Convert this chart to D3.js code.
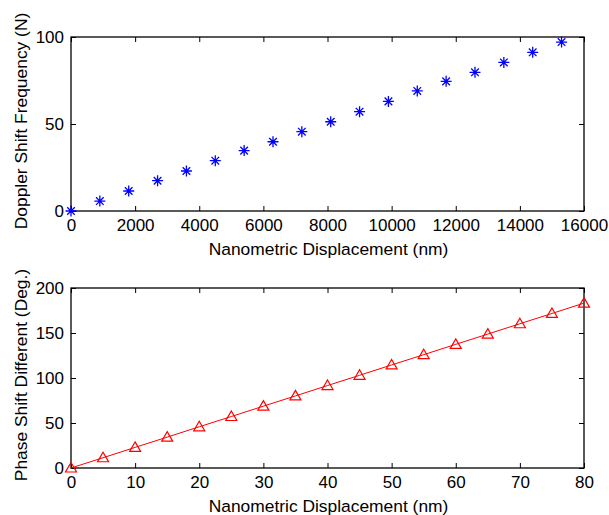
<!DOCTYPE html>
<html>
<head>
<meta charset="utf-8">
<script src="https://cdn.jsdelivr.net/npm/d3@7"></script>
<style>
  body { margin: 0; background: #fff; }
  svg { font-family: "Liberation Sans", Arial, sans-serif; }
  .tick text { font-size: 17px; fill: #000; }
  .domain, .tick line { stroke: #000; }
</style>
</head>
<body>
<svg id="chart" width="609" height="515"></svg>
<script>
// top panel: doppler shift vs displacement
const dopplerX = [0, 900, 1800, 2700, 3600, 4500, 5400, 6300, 7200, 8100, 9000, 9900, 10800, 11700, 12600, 13500, 14400, 15300];
const dopplerY = [0, 5.7, 11.5, 17.4, 23, 28.9, 34.7, 39.8, 45.6, 51.3, 57.1, 63, 69, 74.5, 79.7, 85.4, 91.2, 97.1];
const dopplerXTicks = [0, 2000, 4000, 6000, 8000, 10000, 12000, 14000, 16000];
const dopplerYTicks = [0, 50, 100];

// bottom panel: phase shift vs displacement
const phaseX = [0, 5, 10, 15, 20, 25, 30, 35, 40, 45, 50, 55, 60, 65, 70, 75, 80];
const phaseY = [0, 11.4, 22.9, 34.3, 45.8, 57.2, 68.7, 80.1, 91.6, 103, 114.5, 125.9, 137.4, 148.8, 160.3, 171.7, 183.2];
const phaseXTicks = [0, 10, 20, 30, 40, 50, 60, 70, 80];
const phaseYTicks = [0, 50, 100, 150, 200];

const svg = d3.select("#chart");
const left = 71, right = 584;

function panel(o) {
  const x = d3.scaleLinear().domain(o.xdom).range([left, right]);
  const y = d3.scaleLinear().domain(o.ydom).range([o.bottom, o.top]);
  const g = svg.append("g");

  g.append("rect")
    .attr("x", left).attr("y", o.top)
    .attr("width", right - left).attr("height", o.bottom - o.top)
    .attr("fill", "none").attr("stroke", "#000").attr("stroke-width", 1.3);

  // axes, ticks pointing inward like matlab
  g.append("g").attr("transform", "translate(0," + o.bottom + ")")
    .call(d3.axisBottom(x).tickValues(o.xticks).tickSizeInner(-5).tickSizeOuter(0).tickPadding(8).tickFormat(d3.format("d")));
  g.append("g").attr("transform", "translate(0," + o.top + ")")
    .call(d3.axisTop(x).tickValues(o.xticks).tickSizeInner(-5).tickSizeOuter(0).tickFormat(""));
  g.append("g").attr("transform", "translate(" + left + ",0)")
    .call(d3.axisLeft(y).tickValues(o.yticks).tickSizeInner(-5).tickSizeOuter(0).tickPadding(7).tickFormat(d3.format("d")));
  g.append("g").attr("transform", "translate(" + right + ",0)")
    .call(d3.axisRight(y).tickValues(o.yticks).tickSizeInner(-5).tickSizeOuter(0).tickFormat(""));
  g.selectAll(".domain").remove();

  g.append("text")
    .attr("x", (left + right) / 2 + 1).attr("y", o.xlabelY)
    .attr("text-anchor", "middle").attr("font-size", 17.4)
    .text(o.xlabel);
  g.append("text")
    .attr("transform", "translate(27," + ((o.top + o.bottom) / 2 - 3) + ") rotate(-90)")
    .attr("text-anchor", "middle").attr("font-size", 17.4)
    .text(o.ylabel);

  const pts = o.xs.map((v, i) => [x(v), y(o.ys[i])]);
  return { g, pts };
}

const upper = panel({
  xdom: [0, 16000], ydom: [0, 100], top: 37, bottom: 211,
  xticks: dopplerXTicks, yticks: dopplerYTicks,
  xs: dopplerX, ys: dopplerY,
  xlabel: "Nanometric Displacement (nm)", xlabelY: 255,
  ylabel: "Doppler Shift Frequency (N)"
});
// asterisk markers
const star = "M-5.5,0H5.5M0,-5.5V5.5M-3.8,-3.8L3.8,3.8M-3.8,3.8L3.8,-3.8";
upper.g.selectAll(".star").data(upper.pts).join("path")
  .attr("class", "star")
  .attr("transform", d => "translate(" + d[0] + "," + d[1] + ")")
  .attr("d", star)
  .attr("stroke", "#0000ff").attr("stroke-width", 1.3).attr("fill", "none");

const lower = panel({
  xdom: [0, 80], ydom: [0, 200], top: 288, bottom: 468,
  xticks: phaseXTicks, yticks: phaseYTicks,
  xs: phaseX, ys: phaseY,
  xlabel: "Nanometric Displacement (nm)", xlabelY: 512,
  ylabel: "Phase Shift Different (Deg.)"
});
lower.g.append("path")
  .attr("d", d3.line()(lower.pts))
  .attr("stroke", "#ff0000").attr("fill", "none").attr("stroke-width", 1);
lower.g.selectAll(".tri").data(lower.pts).join("path")
  .attr("class", "tri")
  .attr("transform", d => "translate(" + d[0] + "," + d[1] + ")")
  .attr("d", "M0,-5.5L5.5,4L-5.5,4Z")
  .attr("stroke", "#ff0000").attr("stroke-width", 1.2).attr("fill", "none");
</script>
</body>
</html>
